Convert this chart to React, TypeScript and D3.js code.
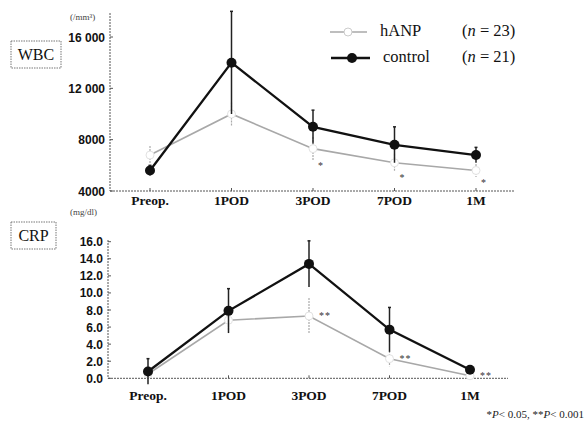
import React, { useEffect, useRef } from 'react';
import * as d3 from 'd3';

const categories = ['Preop.', '1POD', '3POD', '7POD', '1M'];

// WBC (/mm3)
const wbcHanp = [6800, 10000, 7300, 6200, 5600];
const wbcHanpErr = [700, 900, 900, 700, 500];
const wbcControl = [5600, 14000, 9000, 7600, 6800];
const wbcControlErr = [400, 4000, 1300, 1400, 600];
const wbcTicks = [4000, 8000, 12000, 16000];
const wbcTickLabels = ['4000', '8000', '12 000', '16 000'];
const wbcSig = ['', '', '*', '*', '*'];

// CRP (mg/dl)
const crpHanp = [0.5, 6.8, 7.3, 2.3, 0.3];
const crpHanpErr = [0.4, 1.2, 2.1, 0.9, 0.2];
const crpControl = [0.8, 7.9, 13.4, 5.7, 1.0];
const crpControlErr = [1.5, 2.6, 2.7, 2.6, 0.3];
const crpTicks = [0, 2, 4, 6, 8, 10, 12, 14, 16];
const crpSig = ['', '', '**', '**', '**'];

const serif = '"Liberation Serif", "DejaVu Serif", serif';
const sans = '"Liberation Sans", Arial, sans-serif';

const App = () => {
  const svgRef = useRef(null);

  useEffect(() => {
    const svg = d3.select(svgRef.current);
    svg.selectAll('*').remove();

    const drawPanel = (opts) => {
      const { x0, x1, yTop, yBottom, axisTop, domain, ticks, tickLabels, hanp, hanpErr, control, controlErr, sig, sigMode, labelY } = opts;
      const x = d3.scalePoint().domain(categories).range([x0 + 40, x1 - 38]);
      const y = d3.scaleLinear().domain(domain).range([yBottom, yTop]);
      const g = svg.append('g');

      // axes (dotted look)
      g.append('line').attr('x1', x0).attr('x2', x0).attr('y1', axisTop).attr('y2', yBottom)
        .attr('stroke', '#555').attr('stroke-width', 1).attr('stroke-dasharray', '2,1');
      g.append('line').attr('x1', x0).attr('x2', x1).attr('y1', yBottom).attr('y2', yBottom)
        .attr('stroke', '#555').attr('stroke-width', 1).attr('stroke-dasharray', '2,1');

      ticks.forEach((t, i) => {
        g.append('line').attr('x1', x0).attr('x2', x0 + 3).attr('y1', y(t)).attr('y2', y(t))
          .attr('stroke', '#555');
        g.append('text').attr('x', x0 - 5).attr('y', y(t) + 4.5)
          .attr('text-anchor', 'end').attr('font-family', sans).attr('font-weight', 'bold')
          .attr('font-size', 12).attr('fill', '#111')
          .text(tickLabels ? tickLabels[i] : t.toFixed(1));
      });

      categories.forEach((c) => {
        g.append('line').attr('x1', x(c)).attr('x2', x(c)).attr('y1', yBottom).attr('y2', yBottom - 3)
          .attr('stroke', '#555');
        g.append('text').attr('x', x(c)).attr('y', labelY).attr('text-anchor', 'middle')
          .attr('font-family', serif).attr('font-weight', 'bold').attr('font-size', 13.5)
          .attr('fill', '#111').text(c);
      });

      const line = d3.line().x((d, i) => x(categories[i])).y((d) => y(d));

      // hANP error bars
      hanp.forEach((v, i) => {
        g.append('line').attr('x1', x(categories[i])).attr('x2', x(categories[i]))
          .attr('y1', y(v + hanpErr[i])).attr('y2', y(v - hanpErr[i]))
          .attr('stroke', '#aaa').attr('stroke-width', 1.2).attr('stroke-dasharray', '2,1');
      });
      g.append('path').datum(hanp).attr('d', line).attr('fill', 'none')
        .attr('stroke', '#a8a8a8').attr('stroke-width', 1.6);
      hanp.forEach((v, i) => {
        g.append('circle').attr('cx', x(categories[i])).attr('cy', y(v)).attr('r', 4)
          .attr('fill', '#fff').attr('stroke', '#e2e2e2').attr('stroke-width', 1);
      });

      // control
      control.forEach((v, i) => {
        g.append('line').attr('x1', x(categories[i])).attr('x2', x(categories[i]))
          .attr('y1', y(v + controlErr[i])).attr('y2', y(v - controlErr[i]))
          .attr('stroke', '#222').attr('stroke-width', 1.5);
        g.append('line').attr('x1', x(categories[i]) - 1.5).attr('x2', x(categories[i]) + 1.5)
          .attr('y1', y(v + controlErr[i])).attr('y2', y(v + controlErr[i]))
          .attr('stroke', '#222').attr('stroke-width', 1.5);
      });
      g.append('path').datum(control).attr('d', line).attr('fill', 'none')
        .attr('stroke', '#111').attr('stroke-width', 2.3);
      control.forEach((v, i) => {
        g.append('circle').attr('cx', x(categories[i])).attr('cy', y(v)).attr('r', 5)
          .attr('fill', '#111');
      });

      // significance marks
      sig.forEach((s, i) => {
        if (!s) return;
        const cx = x(categories[i]);
        const sx = sigMode === 'below' ? cx + 5 : cx + 10;
        const sy = sigMode === 'below' ? y(hanp[i] - hanpErr[i]) + 9 : y(hanp[i]) + 3;
        g.append('text').attr('x', sx).attr('y', sy).attr('font-family', serif)
          .attr('font-size', 10).attr('fill', '#333').attr('letter-spacing', 1).text(s);
      });
    };

    drawPanel({
      x0: 110, x1: 514, yTop: 37, yBottom: 191, axisTop: 13,
      domain: [4000, 16000], ticks: wbcTicks, tickLabels: wbcTickLabels,
      hanp: wbcHanp, hanpErr: wbcHanpErr, control: wbcControl, controlErr: wbcControlErr,
      sig: wbcSig, sigMode: 'below', labelY: 205,
    });

    drawPanel({
      x0: 108, x1: 508, yTop: 241.7, yBottom: 378.3, axisTop: 240,
      domain: [0, 16], ticks: crpTicks, tickLabels: null,
      hanp: crpHanp, hanpErr: crpHanpErr, control: crpControl, controlErr: crpControlErr,
      sig: crpSig, sigMode: 'right', labelY: 400,
    });

    // panel labels
    const box = (x, y, w, h, label) => {
      svg.append('rect').attr('x', x).attr('y', y).attr('width', w).attr('height', h)
        .attr('fill', 'none').attr('stroke', '#777').attr('stroke-dasharray', '1.5,1');
      svg.append('text').attr('x', x + w / 2).attr('y', y + h / 2 + 5.5).attr('text-anchor', 'middle')
        .attr('font-family', serif).attr('font-size', 16).attr('fill', '#111').text(label);
    };
    box(11, 41, 50, 27, 'WBC');
    box(11, 222, 45, 27, 'CRP');

    svg.append('text').attr('x', 70).attr('y', 20).attr('font-family', serif).attr('font-size', 9)
      .attr('fill', '#444').text('(/mm³)');
    svg.append('text').attr('x', 70).attr('y', 215).attr('font-family', serif).attr('font-size', 9)
      .attr('fill', '#444').text('(mg/dl)');

    // legend
    const lg = svg.append('g');
    lg.append('line').attr('x1', 330).attr('x2', 367).attr('y1', 32).attr('y2', 32)
      .attr('stroke', '#a8a8a8').attr('stroke-width', 1.6);
    lg.append('circle').attr('cx', 348).attr('cy', 32).attr('r', 4)
      .attr('fill', '#fff').attr('stroke', '#ccc');
    lg.append('line').attr('x1', 331).attr('x2', 370).attr('y1', 58).attr('y2', 58)
      .attr('stroke', '#111').attr('stroke-width', 2.3);
    lg.append('circle').attr('cx', 352).attr('cy', 58).attr('r', 5).attr('fill', '#111');
    lg.append('text').attr('x', 380).attr('y', 36).attr('font-family', serif).attr('font-size', 16.5)
      .attr('fill', '#111').text('hANP');
    lg.append('text').attr('x', 383).attr('y', 62).attr('font-family', serif).attr('font-size', 16.5)
      .attr('fill', '#111').text('control');
    [['23', 36], ['21', 62]].forEach(([n, yy]) => {
      const t = lg.append('text').attr('x', 462).attr('y', yy).attr('font-family', serif)
        .attr('font-size', 16.5).attr('fill', '#111');
      t.append('tspan').text('(');
      t.append('tspan').attr('font-style', 'italic').text('n');
      t.append('tspan').text(` = ${n})`);
    });

    // footnote
    const fn = svg.append('text').attr('x', 584).attr('y', 418).attr('text-anchor', 'end')
      .attr('font-family', serif).attr('font-size', 11).attr('fill', '#222');
    fn.append('tspan').text('*');
    fn.append('tspan').attr('font-style', 'italic').text('P');
    fn.append('tspan').text('< 0.05, **');
    fn.append('tspan').attr('font-style', 'italic').text('P');
    fn.append('tspan').text('< 0.001');
  }, []);

  return (
    <svg ref={svgRef} width={586} height={427}
      style={{ position: 'absolute', left: 0, top: 0, background: '#fff' }} />
  );
};

export default App;
